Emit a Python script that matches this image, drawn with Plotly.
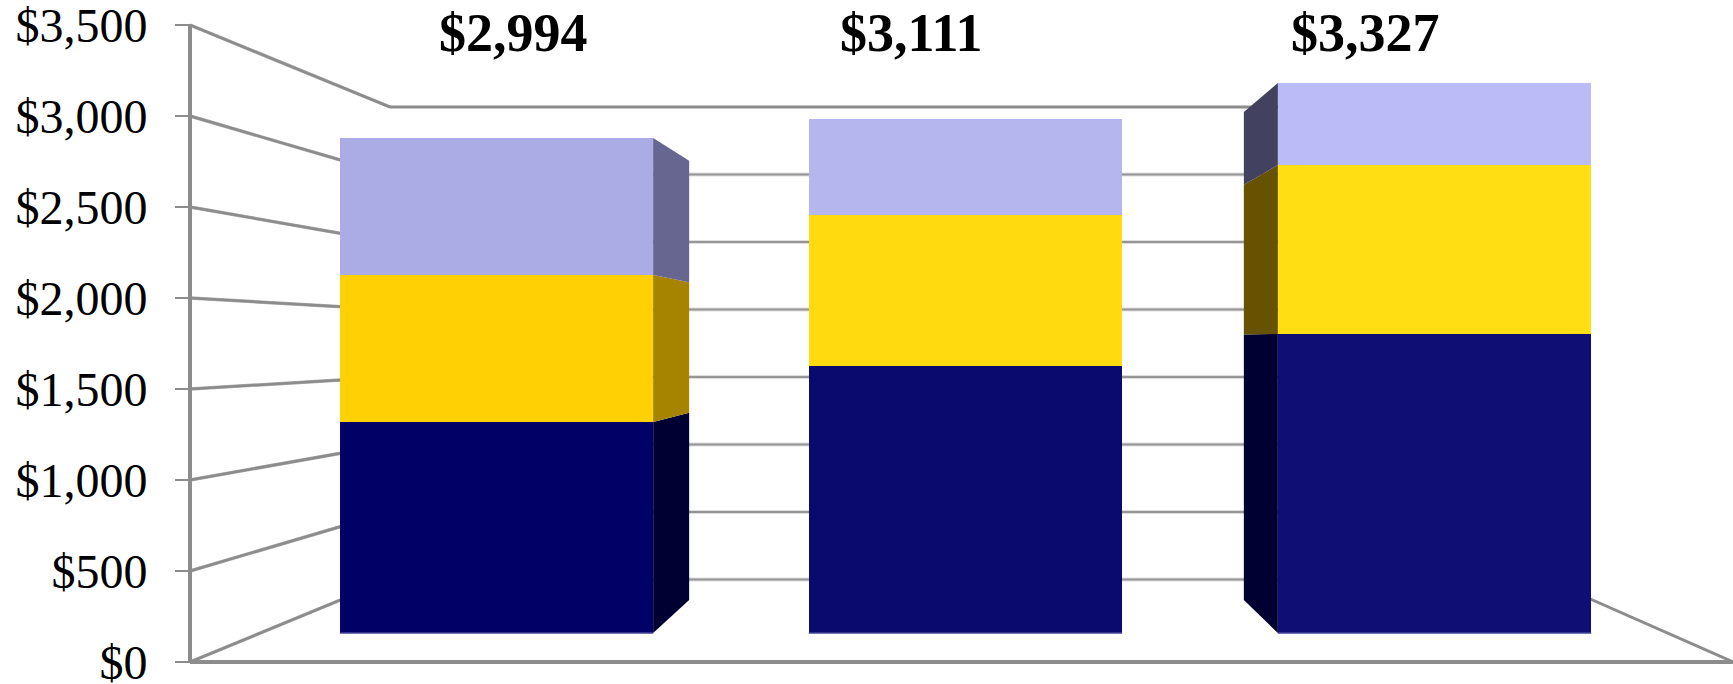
import plotly.graph_objects as go

# ---- data ----
categories = [0, 1, 2]
navy = [1276, 1615, 1809]
yellow = [890, 911, 1022]
lavender = [828, 585, 496]
totals = [2994, 3111, 3327]
tick_vals = [0, 500, 1000, 1500, 2000, 2500, 3000, 3500]
tick_labels = ["$0", "$500", "$1,000", "$1,500", "$2,000", "$2,500", "$3,000", "$3,500"]

navy_colors = ["#000066", "#0A0A6E", "#0E0E74"]
yellow_colors = ["#FFD004", "#FFDA0E", "#FFDF14"]
lav_colors = ["#ABABE6", "#B6B6EE", "#BBBBF7"]

# ---- projection: a dollar value on each depth plane, expressed in front-plane units ----
W, H = 1733, 684
PX_PER_DOLLAR = 0.1653
FRONT_PX = 633
PX_PER_CAT = 469
CAT0_PX = 496.5


def cx(px):
    return (px - CAT0_PX) / PX_PER_CAT


def plane(zero_px, scale):
    return lambda v: (FRONT_PX - (zero_px - scale * v)) / PX_PER_DOLLAR


axis_plane = plane(662, 0.182)
wall_plane = plane(579.5, 0.135)
depth_plane = plane(600, 0.1467)

BAR_W = 0.668
AXIS_X, WALL_X, WALL_END_X = cx(190), cx(390), cx(1285)
CORNER_X, FLOOR_BACK_X = cx(1733), cx(1546)
GREY = "#8C8C8C"

shapes = []


def seg(x0, y0, x1, y1, color=GREY, width=2, layer="below"):
    shapes.append(dict(type="line", xref="x", yref="y", x0=x0, y0=y0, x1=x1, y1=y1,
                       layer=layer, line=dict(color=color, width=width)))


for v in tick_vals:
    seg(AXIS_X, axis_plane(v), WALL_X, wall_plane(v), "#B0B0B0", 3.5)
    seg(AXIS_X, axis_plane(v), WALL_X, wall_plane(v), GREY, 2.5)
    if v == tick_vals[-1]:
        seg(WALL_X, wall_plane(v), WALL_END_X, wall_plane(v), GREY, 3)
    else:
        seg(WALL_X, wall_plane(v), WALL_END_X, wall_plane(v), "#DDDDDD", 4)
        seg(WALL_X, wall_plane(v), WALL_END_X, wall_plane(v), "#969696", 2)

seg(AXIS_X, axis_plane(0), AXIS_X, axis_plane(3500), GREY, 4)
seg(AXIS_X, axis_plane(0), CORNER_X, axis_plane(0), GREY, 4)
seg(CORNER_X, axis_plane(0), FLOOR_BACK_X, wall_plane(0), GREY, 3)

fig = go.Figure()
for name, vals, cols in [("navy", navy, navy_colors), ("yellow", yellow, yellow_colors),
                         ("lavender", lavender, lav_colors)]:
    fig.add_trace(go.Bar(x=categories, y=vals, name=name, width=BAR_W,
                         marker=dict(color=cols, line=dict(width=0)), hoverinfo="skip"))

# side faces of the first and third bars
side_colors = {0: ["#000033", "#A68400", "#666690"], 2: ["#000033", "#665200", "#424260"]}
side_offset = {0: (BAR_W / 2, 36 / PX_PER_CAT), 2: (-BAR_W / 2, -34 / PX_PER_CAT)}
for i, cols in side_colors.items():
    edge, depth = side_offset[i]
    xf, xb = categories[i] + edge, categories[i] + edge + depth
    base = 0
    for vals, col in zip([navy, yellow, lavender], cols):
        top = base + vals[i]
        fig.add_trace(go.Scatter(
            x=[xf, xf, xb, xb, xf],
            y=[base, top, depth_plane(top), depth_plane(base), base],
            mode="lines", line=dict(width=0), fill="toself", fillcolor=col,
            hoverinfo="skip"))
        base = top

# lighter bottom edge of each bar
for c in categories:
    fig.add_trace(go.Scatter(x=[c - BAR_W / 2, c + BAR_W / 2], y=[0, 0], mode="lines",
                             line=dict(color="#45459A", width=1.5), hoverinfo="skip"))

# axis carrying the dollar labels
fig.add_trace(go.Scatter(x=[AXIS_X], y=[0], yaxis="y2", mode="markers",
                         marker=dict(opacity=0), hoverinfo="skip"))

label_shift = [16.5, -54, -69]
annotations = [
    dict(x=c, xref="x", y=1 - 33 / H, yref="paper", text=f"${t:,}", showarrow=False,
         xshift=s, yanchor="middle", xanchor="center",
         font=dict(family="Liberation Serif", size=54, color="black", weight="bold"))
    for c, t, s in zip(categories, totals, label_shift)
]

fig.update_layout(
    width=W, height=H, autosize=False,
    margin=dict(l=0, r=0, t=0, b=0, pad=0, autoexpand=False),
    paper_bgcolor="white", plot_bgcolor="white",
    barmode="stack", showlegend=False,
    shapes=shapes, annotations=annotations,
    font=dict(family="Liberation Serif", color="black"),
    xaxis=dict(range=[cx(0), cx(W)], visible=False, domain=[0, 1], fixedrange=True,
               automargin=False),
    yaxis=dict(range=[(FRONT_PX - H) / PX_PER_DOLLAR, FRONT_PX / PX_PER_DOLLAR],
               visible=False, fixedrange=True, automargin=False),
    yaxis2=dict(overlaying="y", anchor="free", position=190 / W, side="left",
                range=[(662 - H) / 0.182, 662 / 0.182], automargin=False,
                tickmode="array", tickvals=tick_vals, ticktext=tick_labels,
                ticks="outside", ticklen=15, tickwidth=2, tickcolor=GREY,
                ticklabelstandoff=18, ticklabeloverflow="allow",
                showgrid=False, zeroline=False, showline=False,
                tickfont=dict(family="Liberation Serif", size=48, color="black"),
                fixedrange=True),
)

fig.write_html("out.html", config={"displayModeBar": False},
               post_script="document.body.style.margin='0';document.body.style.overflow='hidden';")
